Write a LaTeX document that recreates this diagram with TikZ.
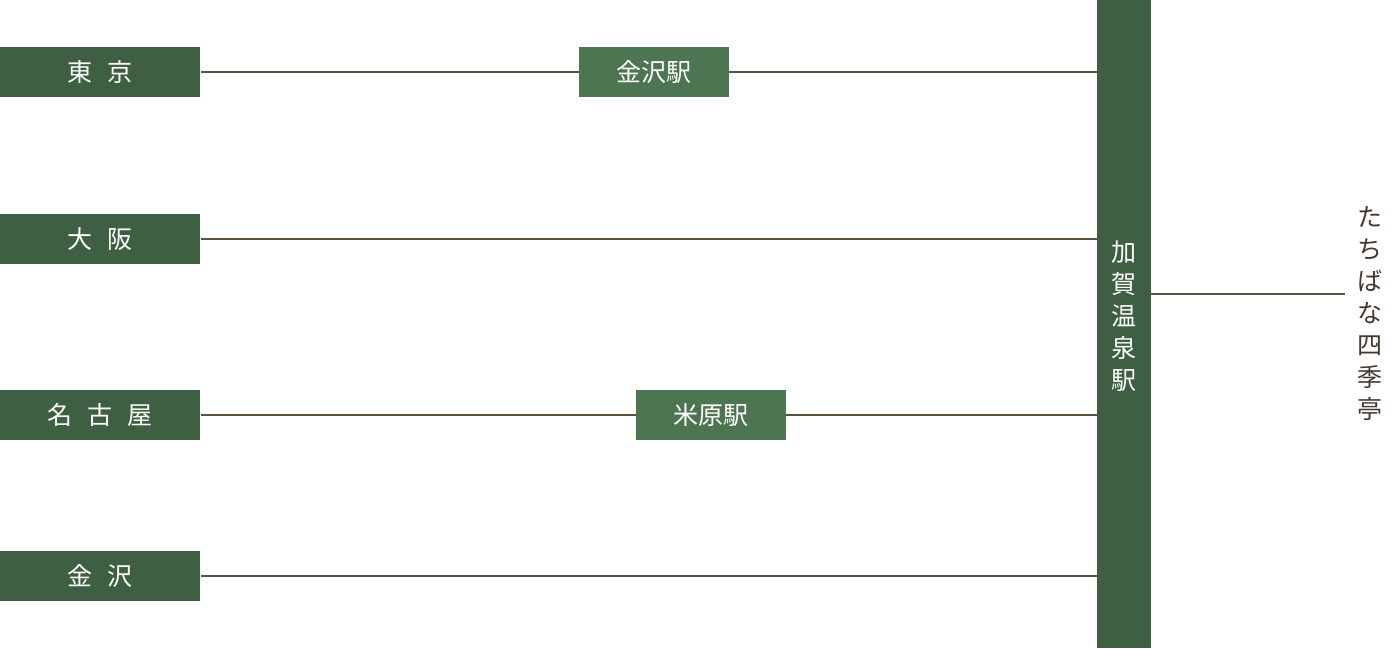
\documentclass[tikz,border=0pt]{standalone}
\usepackage{fontspec}
\setmainfont{Noto Sans CJK JP}
\usetikzlibrary{positioning}
\definecolor{darkgreen}{HTML}{3F5F42}
\definecolor{midgreen}{HTML}{4E7552}
\definecolor{railbrown}{HTML}{5E5040}
\begin{document}
\begin{tikzpicture}[
  x=0.5pt,y=-0.5pt,
  font=\fontsize{12.5}{15}\selectfont,
  city/.style={fill=darkgreen,text=white,minimum width=100pt,minimum height=25pt,inner sep=0pt,anchor=west},
  via/.style={fill=midgreen,text=white,minimum width=75pt,minimum height=25pt,inner sep=0pt},
  rail/.style={railbrown,line width=1.2pt}
]
\useasboundingbox (0,0) rectangle (1400,648);

% --- terminal station bar ---
\fill[darkgreen] (1097,0) rectangle (1151,648);
\node[text=white,align=center,font=\fontsize{12.5}{16}\selectfont] (kaga) at (1124,316) {加\\賀\\温\\泉\\駅};
\coordinate (barw) at (1097,0);

% --- departure cities ---
\node[city] (tokyo)  at (0,72)  {東\hspace{0.6em}京};
\node[city] (osaka)  at (0,239) {大\hspace{0.6em}阪};
\node[city] (nagoya) at (0,415) {名\hspace{0.6em}古\hspace{0.6em}屋};
\node[city] (kanazawa) at (0,576) {金\hspace{0.6em}沢};

% --- transfer stations ---
\node[via] (kanazawast) at (654,72)  {金沢駅};
\node[via] (maibarast)  at (711,415) {米原駅};

% --- lines ---
\coordinate (e1) at (1097,72);
\coordinate (e2) at (1097,239);
\coordinate (e3) at (1097,415);
\coordinate (e4) at (1097,576);
\draw[rail] (tokyo.east) -- (kanazawast.west);
\draw[rail] (kanazawast.east) -- (e1);
\draw[rail] (osaka.east) -- (e2);
\draw[rail] (nagoya.east) -- (maibarast.west);
\draw[rail] (maibarast.east) -- (e3);
\draw[rail] (kanazawa.east) -- (e4);

% --- ryokan ---
\coordinate (b1) at (1151,294);
\node[text=railbrown!70!black,align=center,font=\fontsize{12.5}{16}\selectfont] (inn) at (1370,314) {た\\ち\\ば\\な\\四\\季\\亭};
\coordinate (b2) at (1345,294);
\draw[railbrown,line width=0.8pt] (b1) -- (b2);
\end{tikzpicture}
\end{document}
